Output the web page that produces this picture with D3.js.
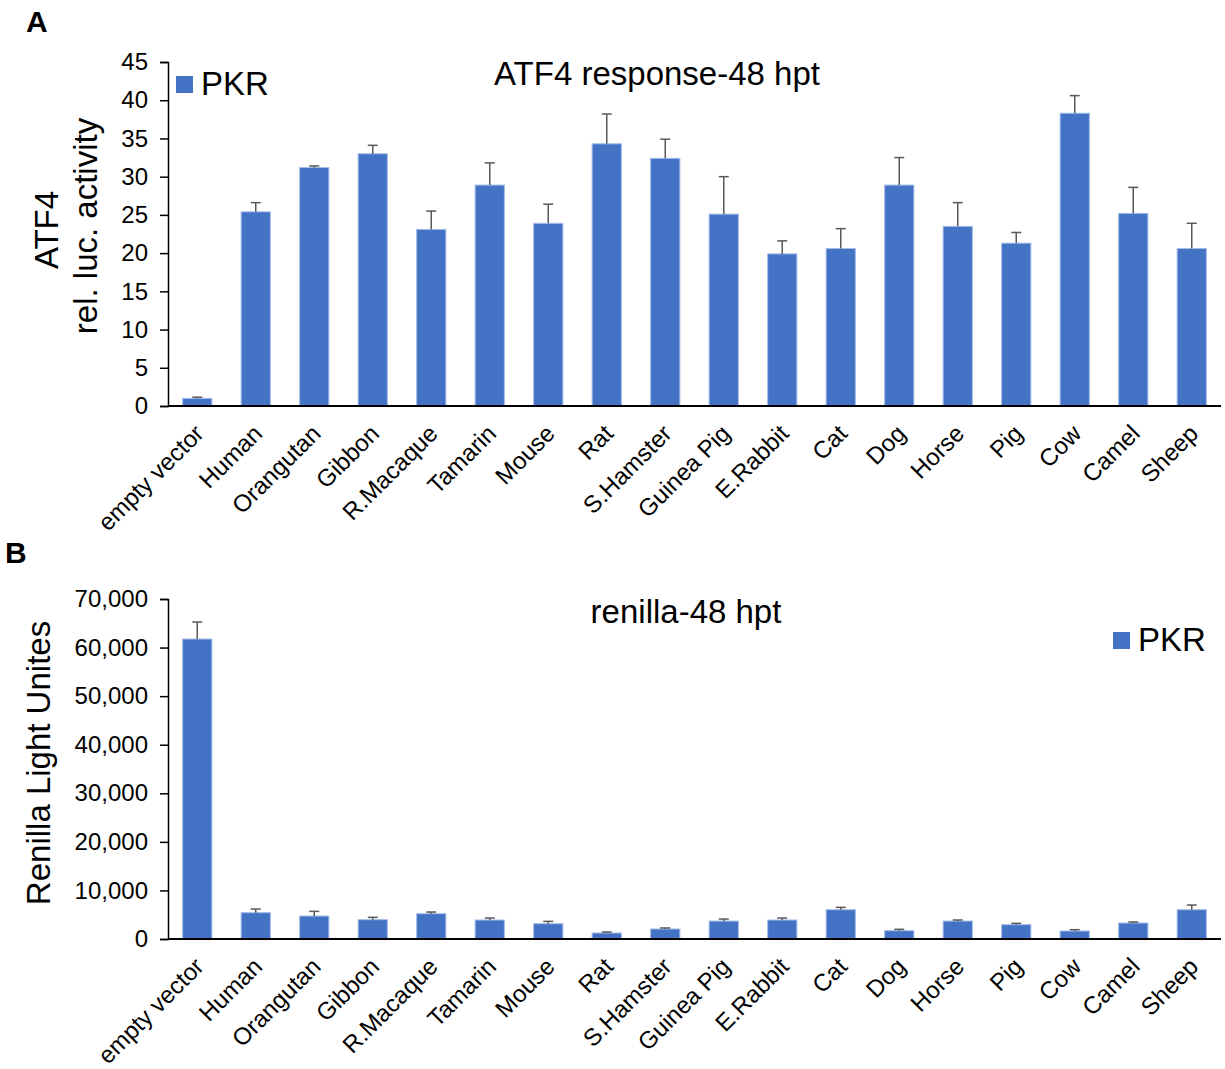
<!DOCTYPE html>
<html>
<head>
<meta charset="utf-8">
<script src="https://cdn.jsdelivr.net/npm/d3@7"></script>
<style>
  body { margin: 0; background: #fff; }
  svg { display: block; font-family: "Liberation Sans", Arial, sans-serif; }
</style>
</head>
<body>
<svg id="chart" width="1225" height="1069"></svg>
<script>
// Constructs tested against PKR
const categories = ["empty vector", "Human", "Orangutan", "Gibbon", "R.Macaque", "Tamarin",
  "Mouse", "Rat", "S.Hamster", "Guinea Pig", "E.Rabbit", "Cat", "Dog", "Horse", "Pig",
  "Cow", "Camel", "Sheep"];

// ATF4 relative luciferase activity (mean) and upper error bar length
const atf4Mean = [1.0, 25.4, 31.2, 33.0, 23.1, 28.9, 23.9, 34.3, 32.4, 25.1, 19.9, 20.6,
  28.9, 23.5, 21.3, 38.3, 25.2, 20.6];
const atf4Err = [0.15, 1.2, 0.2, 1.1, 2.4, 2.9, 2.5, 3.9, 2.5, 4.9, 1.7, 2.6, 3.6, 3.1,
  1.4, 2.3, 3.4, 3.3];

// Renilla light units (mean) and upper error bar length
const renillaMean = [61760, 5420, 4730, 3980, 5210, 3910, 3150, 1240, 2060, 3700, 3910,
  6030, 1710, 3700, 2950, 1650, 3290, 6030];
const renillaErr = [3500, 750, 960, 480, 340, 410, 480, 200, 210, 410, 410, 480, 280,
  210, 270, 270, 210, 960];

const atf4Ticks = [0, 5, 10, 15, 20, 25, 30, 35, 40, 45];
const renillaTicks = [0, 10000, 20000, 30000, 40000, 50000, 60000, 70000];

const BAR = "#4472C4", BAR_EDGE = "#a4bde8", ERR = "#595959";
const FONT = "Liberation Sans, Arial, sans-serif";
const svg = d3.select("#chart");

function panel(opts) {
  const g = svg.append("g");
  const x = d3.scaleBand().domain(categories).range([opts.x0, opts.x1]).paddingInner(0.5).paddingOuter(0.25);
  const y = d3.scaleLinear().domain(opts.domain).range([opts.yBottom, opts.yTop]);

  // bars
  g.selectAll("rect.bar").data(categories).join("rect")
    .attr("class", "bar")
    .attr("x", d => x(d))
    .attr("width", x.bandwidth())
    .attr("y", (d, i) => y(opts.mean[i]))
    .attr("height", (d, i) => y(0) - y(opts.mean[i]))
    .attr("fill", BAR)
    .attr("stroke", BAR_EDGE)
    .attr("stroke-width", 1);

  // upper error bars
  const eb = g.selectAll("g.err").data(categories).join("g").attr("class", "err");
  eb.append("line")
    .attr("x1", d => x(d) + x.bandwidth() / 2)
    .attr("x2", d => x(d) + x.bandwidth() / 2)
    .attr("y1", (d, i) => y(opts.mean[i]))
    .attr("y2", (d, i) => y(opts.mean[i] + opts.err[i]))
    .attr("stroke", ERR).attr("stroke-width", 1.5);
  eb.append("line")
    .attr("x1", d => x(d) + x.bandwidth() / 2 - 5)
    .attr("x2", d => x(d) + x.bandwidth() / 2 + 5)
    .attr("y1", (d, i) => y(opts.mean[i] + opts.err[i]))
    .attr("y2", (d, i) => y(opts.mean[i] + opts.err[i]))
    .attr("stroke", ERR).attr("stroke-width", 1.5);

  // y axis
  const ya = g.append("g")
    .attr("transform", `translate(${opts.axisX},0)`)
    .call(d3.axisLeft(y).tickValues(opts.ticks).tickFormat(opts.fmt).tickSize(8).tickPadding(12));
  ya.select(".domain").attr("stroke", "#000").attr("stroke-width", 1.5);
  ya.selectAll(".tick line").attr("stroke", "#000").attr("stroke-width", 1.5);
  ya.selectAll(".tick text").attr("font-size", 24).attr("fill", "#000")
    .attr("font-family", FONT);

  // x axis
  const xa = g.append("g")
    .attr("transform", `translate(0,${opts.yBottom})`)
    .call(d3.axisBottom(x).tickSize(0).tickPadding(0));
  xa.select(".domain").attr("stroke", "#000").attr("stroke-width", 2)
    .attr("d", `M${opts.axisX},0H${opts.x1}`);
  xa.selectAll(".tick text")
    .attr("font-size", 24).attr("fill", "#000")
    .attr("font-family", FONT)
    .attr("text-anchor", "end")
    .attr("dy", 0)
    .attr("transform", "translate(8,29) rotate(-45)");

  // title
  g.append("text").attr("x", opts.titleX).attr("y", opts.titleY)
    .attr("text-anchor", "middle").attr("font-size", 33).text(opts.title);

  // legend
  g.append("rect").attr("x", opts.legX).attr("y", opts.legY - 19).attr("width", 17).attr("height", 17).attr("fill", BAR);
  g.append("text").attr("x", opts.legX + 25).attr("y", opts.legY).attr("font-size", 33).text("PKR");

  // panel letter
  g.append("text").attr("x", opts.letterX).attr("y", opts.letterY)
    .attr("font-size", 30).attr("font-weight", "bold").text(opts.letter);
  return g;
}

const gA = panel({
  x0: 168, x1: 1221, axisX: 168, yBottom: 406, yTop: 62, domain: [0, 45],
  mean: atf4Mean, err: atf4Err, ticks: atf4Ticks, fmt: d3.format("d"),
  title: "ATF4 response-48 hpt", titleX: 657, titleY: 85,
  legX: 176, legY: 95, letter: "A", letterX: 26, letterY: 32
});
gA.append("text").attr("transform", "translate(58,230) rotate(-90)")
  .attr("text-anchor", "middle").attr("font-size", 33).text("ATF4");
gA.append("text").attr("transform", "translate(97,226) rotate(-90)")
  .attr("text-anchor", "middle").attr("font-size", 33).text("rel. luc. activity");

const gB = panel({
  x0: 168, x1: 1221, axisX: 168, yBottom: 939, yTop: 599, domain: [0, 70000],
  mean: renillaMean, err: renillaErr, ticks: renillaTicks, fmt: d3.format(","),
  title: "renilla-48 hpt", titleX: 686, titleY: 623,
  legX: 1113, legY: 651, letter: "B", letterX: 5, letterY: 563
});
gB.append("text").attr("transform", "translate(50,763) rotate(-90)")
  .attr("text-anchor", "middle").attr("font-size", 33).text("Renilla Light Unites");
</script>
</body>
</html>
